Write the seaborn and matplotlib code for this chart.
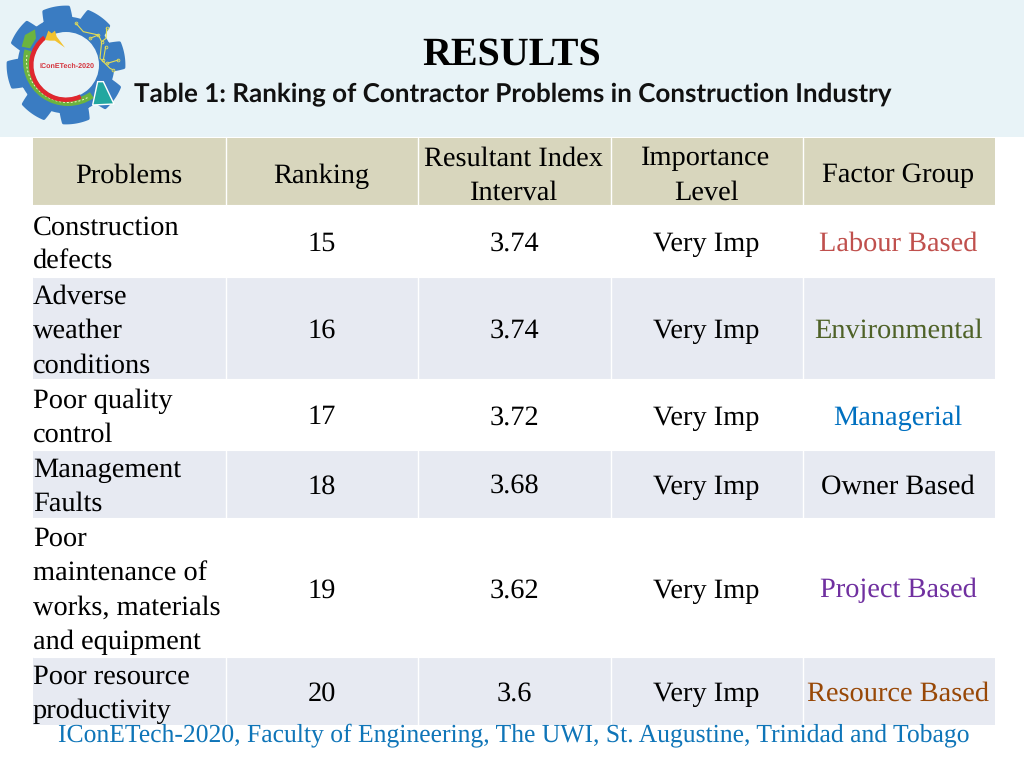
import numpy as np
import pandas as pd
import seaborn as sns
import matplotlib
matplotlib.use("Agg")
import matplotlib.pyplot as plt
from matplotlib.colors import ListedColormap
from matplotlib.patches import Polygon, Wedge, Circle, Rectangle

title = "RESULTS"
subtitle = "Table 1: Ranking of Contractor Problems in Construction Industry"
footer = "IConETech-2020, Faculty of Engineering, The UWI, St. Augustine, Trinidad and Tobago"
headers = [["Problems"], ["Ranking"], ["Resultant Index", "Interval"], ["Importance", "Level"], ["Factor Group"]]
problems = [["Construction", "defects"], ["Adverse", "weather", "conditions"], ["Poor quality", "control"],
            ["Management", "Faults"], ["Poor", "maintenance of", "works, materials", "and equipment"],
            ["Poor resource", "productivity"]]
ranking = ["15", "16", "17", "18", "19", "20"]
index_values = ["3.74", "3.74", "3.72", "3.68", "3.62", "3.6"]
importance = ["Very Imp"] * 6
factors = ["Labour Based", "Environmental", "Managerial", "Owner Based", "Project Based", "Resource Based"]
factor_colors = ["#c0504d", "#4f6228", "#0070c0", "#000000", "#7030a0", "#984807"]

row_edges = [138, 205, 277, 379, 450, 518, 657, 725]
col_edges = [33, 225.5, 418, 610.5, 802.5, 995]
row_kinds = [0, 1, 2, 1, 2, 1, 2]
band_colors = ["#d8d6bd", "#ffffff", "#e7eaf2"]
line_pitch = 34.4
SERIF = "Liberation Serif"

sns.set_theme(style="white")
plt.rcParams["text.hinting"] = "no_hinting"
plt.rcParams["text.hinting_factor"] = 8
W, H = 1024, 768
fig = plt.figure(figsize=(W / 100, H / 100), dpi=100, facecolor="white")

# table body: seaborn heatmap with bands sized by row height
ax = fig.add_axes([col_edges[0] / W, 1 - row_edges[-1] / H,
                   (col_edges[-1] - col_edges[0]) / W, (row_edges[-1] - row_edges[0]) / H])
heights = np.diff(row_edges)
grid = pd.DataFrame(np.repeat(np.array(row_kinds), heights)[:, None].repeat(5, axis=1))
sns.heatmap(grid, ax=ax, cmap=ListedColormap(band_colors), vmin=0, vmax=2, cbar=False,
            xticklabels=False, yticklabels=False)

# overlay in pixel coordinates
ov = fig.add_axes([0, 0, 1, 1], facecolor="none")
ov.set_xlim(0, W); ov.set_ylim(H, 0); ov.axis("off")
ov.add_patch(Rectangle((0, 0), W, 137, fc="#e8f3f7", ec="none", zorder=0))
for x in col_edges[1:-1]:
    ov.plot([x, x], [row_edges[0], row_edges[-1]], color="white", lw=1.0, zorder=1)
for y in row_edges[1:-1]:
    ov.plot([col_edges[0], col_edges[-1]], [y, y], color="white", lw=0.8, zorder=1)

# logo
cx, cy = 66, 65
th = np.linspace(0, 2 * np.pi, 1440, endpoint=False)
ang = ((np.degrees(th) - 35) / 45 + 0.5) % 1 - 0.5
r = 47 + 11 * np.clip((0.36 - np.abs(ang)) / 0.08, 0, 1)
ov.add_patch(Polygon(np.c_[cx + r * np.cos(th), cy + r * np.sin(th)], fc="#3a7cc2", ec="#3a7cc2", lw=2,
                     joinstyle="round", zorder=2))
ov.add_patch(Circle((cx, cy), 33, fc="#e9f3f7", ec="none", zorder=3))
ov.add_patch(Wedge((cx + 2, cy - 4), 45, 55, 195, width=7, fc="#6cb43f", ec="none", zorder=4))
arc = np.radians(np.linspace(62, 190, 40))
ov.plot(cx + 2 + 41.5 * np.cos(arc), cy - 4 + 41.5 * np.sin(arc), color="#f3f6c8", lw=0.7, ls=(0, (2, 2)), zorder=5)
ov.add_patch(Wedge((cx, cy), 37, 65, 232, width=4.5, fc="#e0272e", ec="none", zorder=5))
leaf = np.array([[65, 140], [75, 105], [105, 88], [108, 115], [90, 145]]) / 3
ov.add_patch(Polygon(leaf, fc="#6cb43f", ec="none", zorder=5))
bolt = np.array([[135, 120], [145, 92], [155, 100], [165, 92], [170, 110], [195, 143], [165, 122], [150, 122]]) / 3
ov.add_patch(Polygon(bolt, fc="#f2c230", ec="none", zorder=6))
flask = np.array([[293, 245], [310, 245], [342, 312], [278, 315]]) / 3
ov.add_patch(Polygon(flask, fc="#22a7a0", ec="white", lw=1, zorder=6))
traces = [[[228, 70], [250, 95], [295, 105], [305, 125], [300, 175], [330, 205], [340, 210]],
          [[320, 85], [318, 115], [305, 125]], [[270, 115], [295, 105]], [[317, 140], [310, 180]], [[355, 180], [322, 190]]]
for t in traces:
    p = np.array(t) / 3
    ov.plot(p[:, 0], p[:, 1], color="#e4dd55", lw=0.8, zorder=5)
    ov.plot(p[[0, -1], 0], p[[0, -1], 1], ls="none", marker="o", ms=2, mfc="none", mec="#e4dd55", mew=0.6, zorder=5)
ov.text(cx + 1, 66, "IConETech-2020", color="#d4303a", fontsize=5.1, fontweight="bold", ha="center", va="center",
        family="Liberation Sans", zorder=7)

# titles
ov.text(512, 65, title, family=SERIF, fontsize=28.8, fontweight="bold", color="black", ha="center", va="baseline", zorder=6)
ov.text(513, 102, subtitle, family="Lato", fontsize=18.75, fontweight="bold", color="#111111", ha="center", va="baseline", zorder=6)


def lines(xc, yc, rows, color="black", ha="center"):
    n = len(rows)
    for i, s in enumerate(rows):
        y = yc + (i - (n - 1) / 2) * line_pitch + 9
        ov.text(xc, y, s, family=SERIF, fontsize=20.45, color=color, ha=ha, va="baseline", zorder=6)


centers = [(col_edges[i] + col_edges[i + 1]) / 2 for i in range(5)]
for c, h in zip(centers, headers):
    lines(c - 0.5, 173.5, h)
for i in range(6):
    yc = (row_edges[i + 1] + row_edges[i + 2]) / 2
    lines(col_edges[0], {0: 243, 1: 329, 2: 416, 3: 485, 4: 588.5, 5: 692}[i], problems[i], ha="left")
    lines(centers[1], yc + 1, [ranking[i]])
    lines(centers[2], yc + 1, [index_values[i]])
    lines(centers[3], yc + 1, [importance[i]])
    lines(centers[4] - 0.5, yc + 1, [factors[i]], color=factor_colors[i])

ov.text(513.5, 741.5, footer, family=SERIF, fontsize=18.48, color="#0f75b8", ha="center", va="baseline", zorder=7)

fig.savefig("out.png", dpi=100)
